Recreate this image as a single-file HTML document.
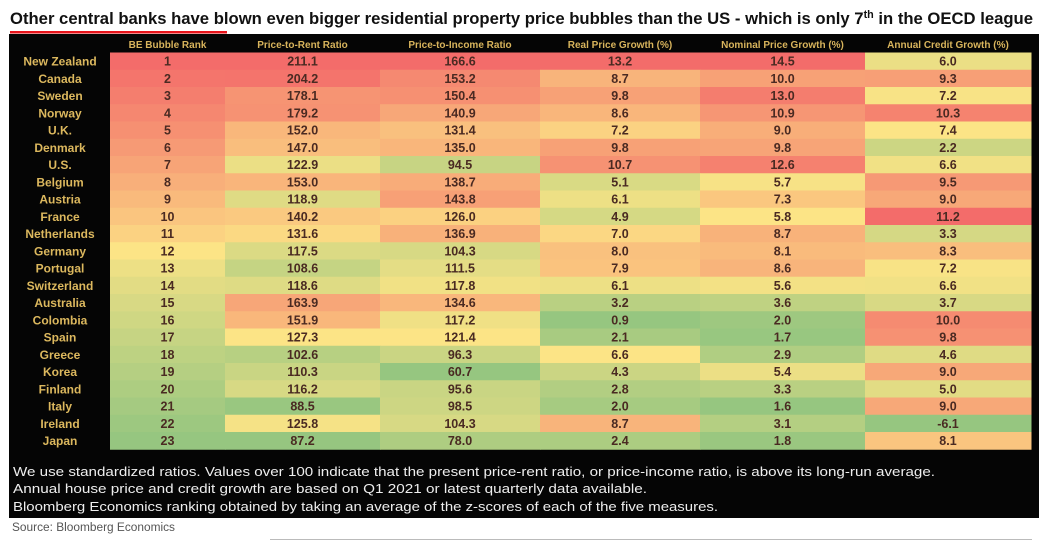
<!DOCTYPE html>
<html><head><meta charset="utf-8">
<style>
html,body{margin:0;padding:0;background:#fff;}
svg{display:block;}
</style></head>
<body>
<svg id="chart" width="1045" height="546" viewBox="0 0 1045 546" xmlns="http://www.w3.org/2000/svg">
  <text x="10" y="24" font-family="Liberation Sans, sans-serif" font-weight="bold" font-size="17" fill="#111" textLength="1023" lengthAdjust="spacingAndGlyphs">Other central banks have blown even bigger residential property price bubbles than the US - which is only 7<tspan font-size="11" dy="-6">th</tspan><tspan dy="6"> in the OECD league</tspan></text>
  <rect x="10" y="31" width="217" height="2.5" fill="#e8141b"/>
  <rect x="9" y="34" width="1030" height="484" fill="#050505"/>
  <g id="grid"></g>
  <text x="13" y="476" font-family="Liberation Sans, sans-serif" font-size="13" fill="#eee" textLength="922" lengthAdjust="spacingAndGlyphs">We use standardized ratios. Values over 100 indicate that the present price-rent ratio, or price-income ratio, is above its long-run average.</text>
  <text x="13" y="493" font-family="Liberation Sans, sans-serif" font-size="13" fill="#eee" textLength="634" lengthAdjust="spacingAndGlyphs">Annual house price and credit growth are based on Q1 2021 or latest quarterly data available.</text>
  <text x="13" y="511" font-family="Liberation Sans, sans-serif" font-size="13" fill="#eee" textLength="705" lengthAdjust="spacingAndGlyphs">Bloomberg Economics ranking obtained by taking an average of the z-scores of each of the five measures.</text>
  <text x="12" y="531" font-family="Liberation Sans, sans-serif" font-size="11.5" fill="#555" textLength="163" lengthAdjust="spacingAndGlyphs">Source: Bloomberg Economics</text>
  <rect x="270" y="539" width="762" height="1" fill="#bbb"/>
</svg>
<script>
const countries = ["New Zealand","Canada","Sweden","Norway","U.K.","Denmark","U.S.","Belgium","Austria","France","Netherlands","Germany","Portugal","Switzerland","Australia","Colombia","Spain","Greece","Korea","Finland","Italy","Ireland","Japan"];
const headers = ["BE Bubble Rank","Price-to-Rent Ratio","Price-to-Income Ratio","Real Price Growth (%)","Nominal Price Growth (%)","Annual Credit Growth (%)"];
const rankVals = [1,2,3,4,5,6,7,8,9,10,11,12,13,14,15,16,17,18,19,20,21,22,23];
const priceRent = [211.1,204.2,178.1,179.2,152.0,147.0,122.9,153.0,118.9,140.2,131.6,117.5,108.6,118.6,163.9,151.9,127.3,102.6,110.3,116.2,88.5,125.8,87.2];
const priceIncome = [166.6,153.2,150.4,140.9,131.4,135.0,94.5,138.7,143.8,126.0,136.9,104.3,111.5,117.8,134.6,117.2,121.4,96.3,60.7,95.6,98.5,104.3,78.0];
const realGrowth = [13.2,8.7,9.8,8.6,7.2,9.8,10.7,5.1,6.1,4.9,7.0,8.0,7.9,6.1,3.2,0.9,2.1,6.6,4.3,2.8,2.0,8.7,2.4];
const nominalGrowth = [14.5,10.0,13.0,10.9,9.0,9.8,12.6,5.7,7.3,5.8,8.7,8.1,8.6,5.6,3.6,2.0,1.7,2.9,5.4,3.3,1.6,3.1,1.8];
const creditGrowth = [6.0,9.3,7.2,10.3,7.4,2.2,6.6,9.5,9.0,11.2,3.3,8.3,7.2,6.6,3.7,10.0,9.8,4.6,9.0,5.0,9.0,-6.1,8.1];

const columns = [
  {vals: rankVals, dec: 0, invert: true},
  {vals: priceRent, dec: 1},
  {vals: priceIncome, dec: 1},
  {vals: realGrowth, dec: 1},
  {vals: nominalGrowth, dec: 1},
  {vals: creditGrowth, dec: 1}
];
const colEdges = [110,225,380,540,700,865,1031];
const rowTop = 52.5, rowH = 17.25;
const NS = "http://www.w3.org/2000/svg";
const g = document.getElementById("grid");
const RED=[243,108,106], YEL=[252,228,134], GRN=[150,198,128];
function mix(a,b,t){return "rgb("+a.map((v,i)=>Math.round(v+(b[i]-v)*t)).join(",")+")";}
function median(arr){const s=[...arr].sort((a,b)=>a-b);const n=s.length;return n%2?s[(n-1)/2]:(s[n/2-1]+s[n/2])/2;}
function colorFor(v,arr,invert){
  const mn=Math.min(...arr), mx=Math.max(...arr), md=median(arr);
  let hi = invert ? GRN : RED, lo = invert ? RED : GRN;
  if(v>=md) return mix(YEL,hi,Math.pow((v-md)/((mx-md)||1),0.8));
  return mix(YEL,lo,Math.pow((md-v)/((md-mn)||1),0.8));
}
function rowY(i){return rowTop + i*rowH;}
function mk(tag,attrs){const e=document.createElementNS(NS,tag);for(const k in attrs)e.setAttribute(k,attrs[k]);g.appendChild(e);return e;}

headers.forEach((h,c)=>{
  const t=mk("text",{x:(colEdges[c]+colEdges[c+1])/2,y:48,"text-anchor":"middle","font-family":"Liberation Sans, sans-serif","font-weight":"bold","font-size":"10",fill:"#d8b45c"});
  t.textContent=h;
  
  
});
countries.forEach((name,r)=>{
  const t=mk("text",{x:60,y:rowY(r)+rowH/2+4.5,"text-anchor":"middle","font-family":"Liberation Sans, sans-serif","font-weight":"bold","font-size":"12",fill:"#dcb85e"});
  t.textContent=name;
  
  
  columns.forEach((col,c)=>{
    const v=col.vals[r];
    const rc=mk("rect",{x:colEdges[c],y:rowY(r),width:colEdges[c+1]-colEdges[c]+0.5,height:rowH+0.5,fill:colorFor(v,col.vals,col.invert)});
    
    
    const tx=mk("text",{x:(colEdges[c]+colEdges[c+1])/2,y:rowY(r)+rowH/2+4.5,"text-anchor":"middle","font-family":"Liberation Sans, sans-serif","font-weight":"bold","font-size":"12.5",fill:"#4a2a22"});
    tx.textContent=v.toFixed(col.dec);
    
    
  });
});
</script>
</body></html>
